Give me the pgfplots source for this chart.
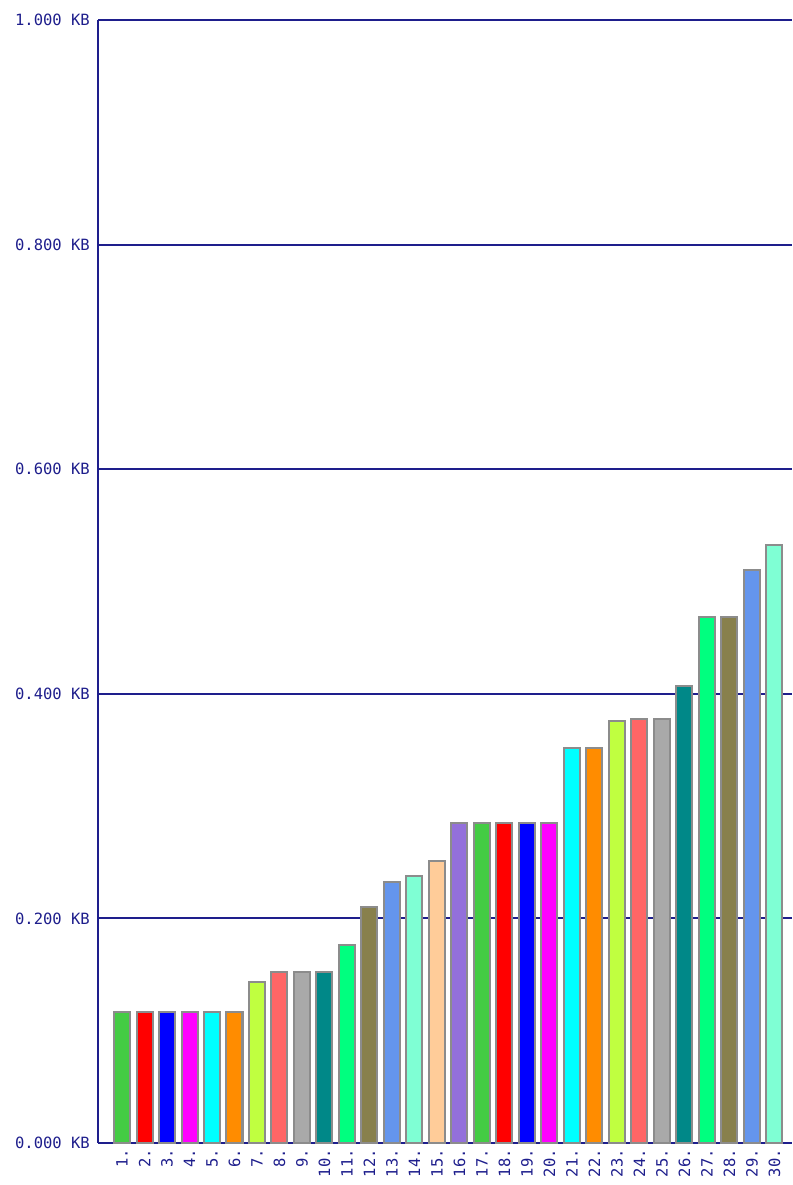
\documentclass[border=0pt]{standalone}
\usepackage{pgfplots}
\pgfplotsset{compat=1.18}
\usepackage{fontspec}
\setmonofont{DejaVu Sans Mono}
\definecolor{navy}{RGB}{30,30,140}
\definecolor{cGreen}{RGB}{68,204,68}
\definecolor{cRed}{RGB}{255,0,0}
\definecolor{cBlue}{RGB}{0,0,255}
\definecolor{cMag}{RGB}{255,0,255}
\definecolor{cCyan}{RGB}{0,255,255}
\definecolor{cOrange}{RGB}{255,140,0}
\definecolor{cYG}{RGB}{192,255,64}
\definecolor{cSalmon}{RGB}{255,102,102}
\definecolor{cGray}{RGB}{169,169,169}
\definecolor{cTeal}{RGB}{0,136,136}
\definecolor{cSpring}{RGB}{0,255,127}
\definecolor{cOlive}{RGB}{136,128,76}
\definecolor{cCorn}{RGB}{100,149,237}
\definecolor{cAqua}{RGB}{127,255,212}
\definecolor{cPeach}{RGB}{255,204,153}
\definecolor{cPurple}{RGB}{147,112,219}
\definecolor{barline}{RGB}{140,140,140}
\begin{document}
\begin{tikzpicture}
\begin{axis}[name=ax, scale only axis, width=694pt, height=1123pt,
  xmin=-0.067, xmax=30.78, ymin=0, ymax=1, clip=false,
  axis x line=bottom, axis y line=left,
  axis line style={-, navy, line width=2pt},
  ytick={0,0.2,0.4,0.6,0.8,1},
  yticklabels={0.000 KB,0.200 KB,0.400 KB,0.600 KB,0.800 KB,1.000 KB},
  xtick={1,...,30},
  xticklabels={1.,2.,3.,4.,5.,6.,7.,8.,9.,10.,11.,12.,13.,14.,15.,16.,17.,18.,19.,20.,21.,22.,23.,24.,25.,26.,27.,28.,29.,30.},
  major tick length=0pt,
  ymajorgrids, grid style={navy, line width=2pt},
  tick label style={font=\ttfamily\fontsize{15.5}{15.5}\selectfont, text=navy},
  xticklabel style={yshift=-6pt, rotate=90, anchor=east, inner sep=0pt},
  yticklabel style={anchor=east, inner sep=0pt, xshift=-8pt},
  every axis plot/.append style={ybar, bar shift=0pt, bar width=16pt, draw=barline, line width=2pt},
]
\addplot[fill=cGreen] coordinates {(1,0.1164) (17,0.285)};
\addplot[fill=cRed] coordinates {(2,0.1164) (18,0.285)};
\addplot[fill=cBlue] coordinates {(3,0.1164) (19,0.285)};
\addplot[fill=cMag] coordinates {(4,0.1164) (20,0.285)};
\addplot[fill=cCyan] coordinates {(5,0.1164) (21,0.352)};
\addplot[fill=cOrange] coordinates {(6,0.1164) (22,0.3515)};
\addplot[fill=cYG] coordinates {(7,0.1431) (23,0.376)};
\addplot[fill=cSalmon] coordinates {(8,0.152) (24,0.378)};
\addplot[fill=cGray] coordinates {(9,0.152) (25,0.378)};
\addplot[fill=cTeal] coordinates {(10,0.152) (26,0.407)};
\addplot[fill=cSpring] coordinates {(11,0.176) (27,0.468)};
\addplot[fill=cOlive] coordinates {(12,0.210) (28,0.468)};
\addplot[fill=cCorn] coordinates {(13,0.2325) (29,0.5098)};
\addplot[fill=cAqua] coordinates {(14,0.238) (30,0.5327)};
\addplot[fill=cPeach] coordinates {(15,0.2514)};
\addplot[fill=cPurple] coordinates {(16,0.285)};
\end{axis}
\pgfresetboundingbox
\path[use as bounding box] ([shift={(-98pt,-42pt)}]ax.south west) rectangle ([shift={(0pt,20pt)}]ax.north east);
\end{tikzpicture}
\end{document}
